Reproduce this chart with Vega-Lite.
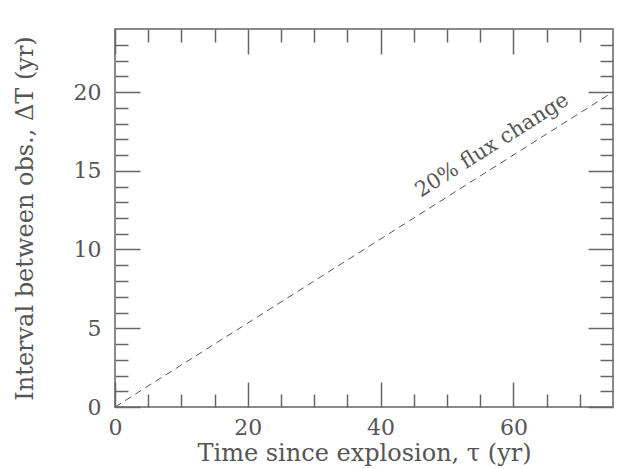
{
  "$schema": "https://vega.github.io/schema/vega-lite/v6.json",
  "width": 498,
  "height": 378,
  "autosize": "none",
  "padding": {"left": 115, "top": 29, "right": 17, "bottom": 62},
  "background": "white",
  "config": {
    "view": {"stroke": "#666", "strokeWidth": 1.5},
    "axis": {
      "domain": false,
      "grid": false,
      "labelFlush": false,
      "tickColor": "#666",
      "tickWidth": 1.5,
      "labelFont": "DejaVu Serif",
      "labelFontSize": 22,
      "labelColor": "#555",
      "titleFont": "DejaVu Serif",
      "titleFontSize": 24,
      "titleFontWeight": "normal",
      "titleColor": "#555"
    }
  },
  "datasets": {
    "line": [{"tau": 0, "dT": 0}, {"tau": 75, "dT": 20}],
    "label": [{"tau": 56.8, "dT": 16.6, "text": "20% flux change"}]
  },
  "layer": [
    {
      "data": {"name": "line"},
      "mark": {"type": "line", "color": "#555", "strokeWidth": 1, "strokeDash": [7, 5]},
      "encoding": {
        "x": {"field": "tau", "type": "quantitative", "scale": {"domain": [0, 75], "nice": false},
          "axis": {"orient": "bottom", "values": [0, 20, 40, 60], "tickSize": -25, "labelPadding": 35, "title": "Time since explosion, τ (yr)", "titlePadding": 3}},
        "y": {"field": "dT", "type": "quantitative", "scale": {"domain": [0, 24], "nice": false},
          "axis": {"orient": "left", "values": [0, 5, 10, 15, 20], "tickSize": -25, "labelPadding": 39, "title": "Interval between obs., ΔT (yr)", "titlePadding": 36}}
      }
    },
    {
      "data": {"name": "line"},
      "mark": {"type": "line", "opacity": 0},
      "encoding": {
        "x": {"field": "tau", "type": "quantitative", "axis": {"orient": "top", "values": [0, 20, 40, 60], "tickSize": -25, "labels": false, "title": null}},
        "y": {"field": "dT", "type": "quantitative", "axis": {"orient": "right", "values": [0, 5, 10, 15, 20], "tickSize": -25, "labels": false, "title": null}}
      }
    },
    {
      "data": {"name": "line"},
      "mark": {"type": "line", "opacity": 0},
      "encoding": {
        "x": {"field": "tau", "type": "quantitative", "axis": {"orient": "bottom", "values": [5, 10, 15, 25, 30, 35, 45, 50, 55, 65, 70], "tickSize": -13, "labels": false, "title": null}},
        "y": {"field": "dT", "type": "quantitative", "axis": {"orient": "left", "values": [1, 2, 3, 4, 6, 7, 8, 9, 11, 12, 13, 14, 16, 17, 18, 19, 21, 22, 23], "tickSize": -13, "labels": false, "title": null}}
      }
    },
    {
      "data": {"name": "line"},
      "mark": {"type": "line", "opacity": 0},
      "encoding": {
        "x": {"field": "tau", "type": "quantitative", "axis": {"orient": "top", "values": [5, 10, 15, 25, 30, 35, 45, 50, 55, 65, 70], "tickSize": -13, "labels": false, "title": null}},
        "y": {"field": "dT", "type": "quantitative", "axis": {"orient": "right", "values": [1, 2, 3, 4, 6, 7, 8, 9, 11, 12, 13, 14, 16, 17, 18, 19, 21, 22, 23], "tickSize": -13, "labels": false, "title": null}}
      }
    },
    {
      "data": {"name": "label"},
      "mark": {"type": "text", "font": "DejaVu Serif", "fontSize": 21, "color": "#555", "angle": 327.7, "align": "center", "baseline": "middle"},
      "encoding": {
        "x": {"field": "tau", "type": "quantitative", "axis": null},
        "y": {"field": "dT", "type": "quantitative", "axis": null},
        "text": {"field": "text"}
      }
    }
  ],
  "resolve": {"axis": {"x": "independent", "y": "independent"}}
}
